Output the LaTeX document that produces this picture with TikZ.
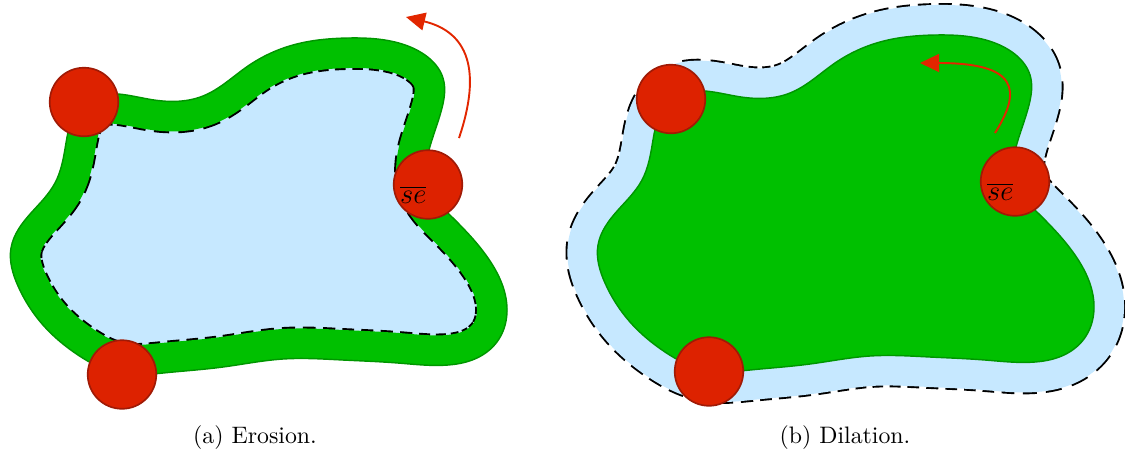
\documentclass[tikz,border=0pt]{standalone}
\usetikzlibrary{arrows.meta,hobby}

\definecolor{blobgreen}{RGB}{0,192,0}
\definecolor{blobedge}{RGB}{0,150,0}
\definecolor{bandblue}{RGB}{198,232,255}
\definecolor{sered}{RGB}{221,34,0}
\definecolor{seedge}{RGB}{160,26,6}
\definecolor{arrowred}{RGB}{226,38,0}

% original set, in the coordinates of the dilation panel
\newcommand{\blobpath}{plot[closed hobby] coordinates {
  (671,99) (735,96) (790,93) (835,63) (880,42) (935,35) (982,39)
  (1012,52) (1030,75) (1029,105) (1018,140) (1015,181) (1040,215)
  (1075,255) (1094,305) (1086,336) (1066,354) (1035,362) (985,360)
  (930,357) (870,356) (810,364) (750,370) (709,371) (665,352)
  (630,322) (605,283) (598,245) (618,210) (642,180) (653,140)}}

\begin{document}
\begin{tikzpicture}[
  x=0.42pt, y=-0.42pt,
  line join=round,
  blobfill/.style={fill=blobgreen, draw=blobedge, line width=0.6pt},
  blobrim/.style={draw=blobedge, line width=0.6pt},
  greenband/.style={draw=blobgreen, line width=25.2pt},
  blueband/.style={draw=bandblue, line width=25.2pt},
  offsetdash/.style={draw=black, line width=26.8pt, dash pattern=on 5pt off 3pt},
  sedisk/.style={circle, fill=sered, draw=seedge, line width=0.7pt,
    minimum size=28.8pt, inner sep=0pt},
  selabel/.style={anchor=north east, inner sep=0.5pt, font=\large},
  movearrow/.style={-{Triangle[length=8pt, width=7.5pt]}, draw=arrowred, thick},
  caption/.style={anchor=base, font=\normalsize}
]
\useasboundingbox (0,0) rectangle (1125,454);

% (a) erosion
\begin{scope}[shift={(-587,3)}]
  \fill[bandblue] \blobpath;
  \begin{scope}
    \clip \blobpath;
    \path[offsetdash] \blobpath;
    \path[greenband] \blobpath;
  \end{scope}
  \path[blobrim] \blobpath;
  \node[sedisk] (etl) at (671,99) {};
  \node[sedisk] (ebl) at (709,371.5) {};
  \node[sedisk] (ese) at (1015,181.5) {};
  \node[selabel] (eselbl) at (ese.center) {$\overline{se}$};
  \coordinate (eastart) at (1046,135);
  \coordinate (eaend) at (993,14);
  \draw[movearrow] (eastart) .. controls (1069,67) and (1055,29) .. (eaend);
\end{scope}

% (b) dilation
\path[offsetdash] \blobpath;
\path[blueband] \blobpath;
\path[blobfill] \blobpath;
\node[sedisk] (dtl) at (671,99) {};
\node[sedisk] (dbl) at (709,371.5) {};
\node[sedisk] (dse) at (1015,181.5) {};
\node[selabel] (dselbl) at (dse.center) {$\overline{se}$};
\coordinate (dastart) at (995,133);
\coordinate (daend) at (920,63);
\draw[movearrow] (dastart) .. controls (1022,90) and (1018,63) .. (daend);

\node[caption] (capa) at (255,443) {(a) Erosion.};
\node[caption] (capb) at (845,443) {(b) Dilation.};
\end{tikzpicture}
\end{document}
